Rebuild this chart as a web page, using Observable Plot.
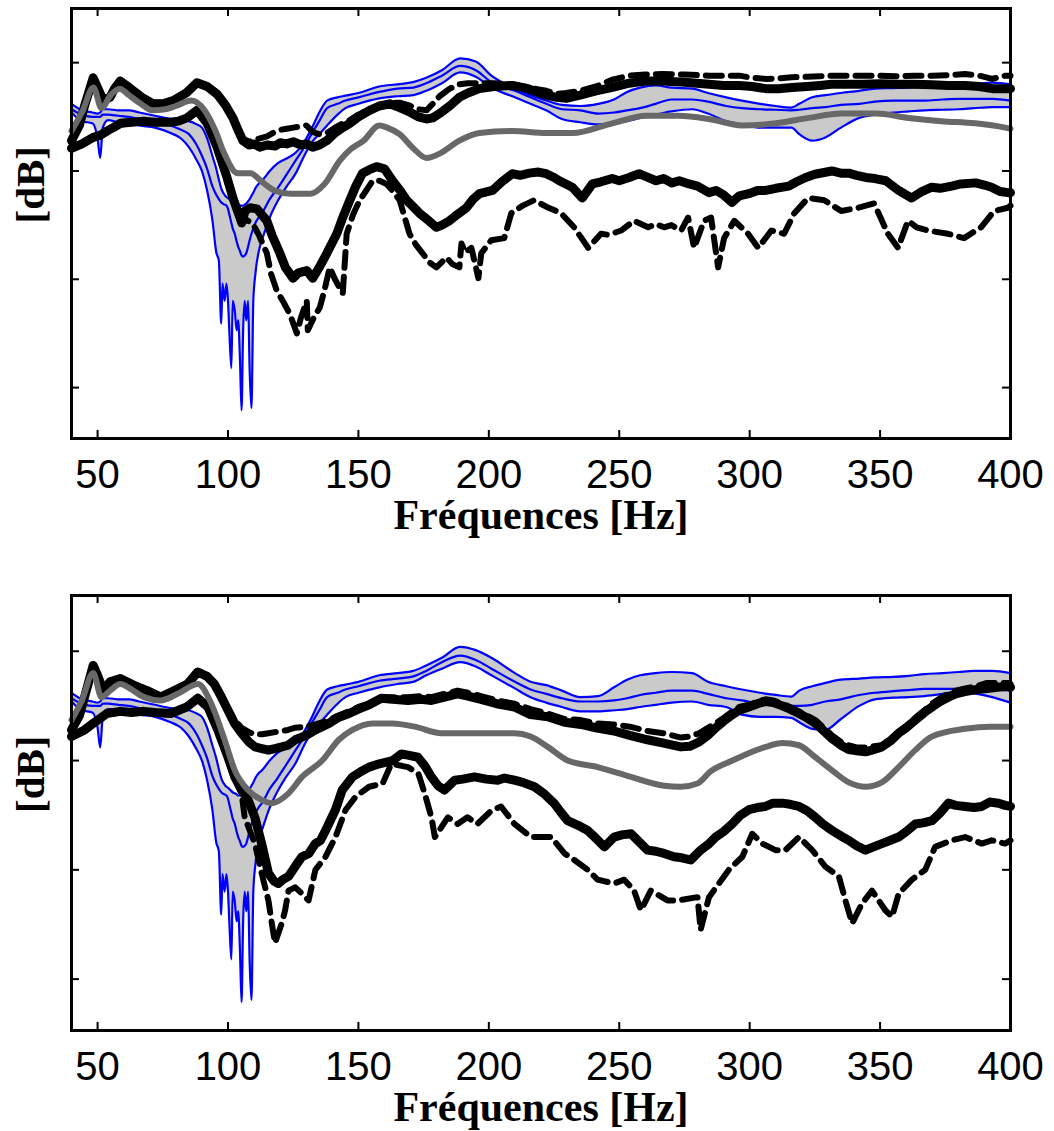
<!DOCTYPE html>
<html><head><meta charset="utf-8">
<script src="https://cdn.jsdelivr.net/npm/d3@7"></script>
<script src="https://cdn.jsdelivr.net/npm/@observablehq/plot@0.6"></script>
<style>body{margin:0;background:#fff}#chart svg{display:block}</style>
</head><body><div id="chart"></div>
<script>
// ---------- tick values & labels ----------
const xTicks = [50,100,150,200,250,300,350,400];
const yTicks = [0,-10,-20,-30];
const xLabel = "Fréquences [Hz]";
const yLabel = "[dB]";

// ---------- blue band (shared frequency grid) ----------
const freqBlue = [40,44,48,50,51,52,54,58,62,66,72,78,82,85,88,90,92,94,95.5,96.5,97.4,97.9,98.7,99.4,100,100.5,101.3,101.8,102.6,103.3,103.9,104.6,105.2,105.8,106.4,107,107.7,108.3,109,109.7,110.5,112,113,116,119,122,126,129,132,135,138,142,145,150,158,165,171,176,182,189,195,201,210,216,222,228,235,242,248,253,258,264,270,278,284,291,297,304,310,316,319,324,329,335,342,348,355,361,367,374,380,386,393,400];

// top panel
const b1Hi = [-3.8,-4.4,-4.6,-4.7,-4.6,-4.3,-4.3,-4.4,-4.4,-4.6,-4.9,-5.2,-5.3,-5.4,-5.7,-6.0,-7.0,-8.6,-9.8,-10.8,-11.6,-11.9,-12.2,-12.4,-12.5,-12.6,-12.8,-12.9,-13.0,-13.1,-13.2,-13.2,-13.2,-13.2,-13.1,-13.0,-12.8,-12.6,-12.3,-12.0,-11.6,-11.1,-10.9,-10.0,-9.3,-8.9,-8.3,-7.4,-6.1,-4.6,-3.5,-3.2,-3.05,-2.8,-2.2,-2.0,-1.8,-1.4,-0.7,0.4,0.1,-1.2,-2.4,-3.0,-3.5,-3.9,-4.0,-3.8,-3.4,-2.7,-2.3,-2.1,-2.3,-2.4,-2.8,-3.2,-3.5,-3.8,-4.0,-4.15,-3.8,-3.2,-3.0,-2.8,-2.6,-2.4,-2.35,-2.3,-2.2,-2.15,-2.1,-2.0,-1.85,-2.0];
const b1Mid = [-4.3,-4.8,-5.0,-5.0,-5.0,-4.8,-4.8,-4.9,-5.0,-5.2,-5.5,-5.8,-6.2,-6.6,-7.6,-8.6,-9.8,-11.4,-12.2,-12.6,-12.9,-13.0,-13.1,-13.2,-13.5,-14.0,-14.8,-15.3,-15.8,-16.5,-17.0,-17.4,-17.8,-17.9,-17.8,-17.6,-17.0,-16.4,-15.8,-15.3,-14.8,-14.2,-13.9,-12.6,-11.6,-10.5,-9.0,-7.9,-6.6,-5.4,-4.2,-3.8,-3.5,-3.2,-2.7,-2.4,-2.3,-1.9,-1.2,-0.3,-0.7,-1.8,-2.6,-3.2,-3.8,-4.3,-4.4,-4.7,-4.6,-4.4,-4.2,-3.8,-3.4,-3.4,-3.6,-4.0,-4.2,-4.3,-4.35,-4.4,-4.35,-4.2,-4.1,-3.9,-3.8,-3.6,-3.5,-3.5,-3.5,-3.4,-3.35,-3.35,-3.35,-3.5];
const b1Lo = [-4.6,-5.4,-5.6,-7.0,-8.8,-6.0,-5.3,-5.5,-5.6,-5.8,-6.0,-6.5,-7.0,-7.8,-9.0,-10.0,-11.8,-14.5,-17.5,-18.3,-24.1,-20.4,-22.0,-20.4,-22.0,-24.7,-28.2,-22.0,-22.9,-24.7,-23.8,-27.5,-32.1,-24.7,-22.0,-23.8,-22.0,-28.4,-31.9,-22.0,-19.5,-17.2,-16.4,-14.3,-12.8,-11.6,-10.2,-8.7,-7.4,-6.6,-5.8,-4.8,-4.2,-3.8,-3.3,-3.1,-3.0,-2.6,-1.9,-0.9,-1.3,-2.3,-3.2,-3.8,-4.4,-5.2,-5.5,-5.7,-5.6,-5.4,-5.1,-4.8,-4.5,-4.3,-4.7,-5.4,-5.7,-6.0,-6.0,-6.0,-6.6,-7.2,-6.9,-6.0,-5.1,-4.8,-4.6,-4.5,-4.4,-4.35,-4.3,-4.2,-4.1,-4.1];

// bottom panel
const b2Hi = [-3.8,-4.4,-4.6,-4.7,-4.6,-4.3,-4.3,-4.4,-4.4,-4.6,-4.9,-5.2,-5.3,-5.4,-5.7,-6.0,-7.0,-8.6,-9.8,-10.8,-11.6,-11.9,-12.2,-12.4,-12.5,-12.6,-12.8,-12.9,-13.0,-13.1,-13.2,-13.2,-13.2,-13.2,-13.1,-13.0,-12.8,-12.6,-12.3,-12.0,-11.6,-11.1,-10.9,-10.0,-9.3,-8.9,-8.3,-7.4,-6.1,-4.6,-3.5,-3.2,-3.05,-2.8,-2.2,-2.0,-1.8,-1.3,-0.6,0.4,0.1,-0.6,-2.0,-2.8,-3.1,-3.6,-4.2,-4.1,-3.3,-2.6,-2.2,-2.0,-1.9,-2.0,-2.8,-3.2,-3.5,-3.8,-4.0,-4.15,-3.6,-3.2,-2.9,-2.6,-2.5,-2.4,-2.35,-2.25,-2.1,-2.0,-1.9,-1.8,-1.8,-2.0];
const b2Mid = [-4.3,-4.8,-5.0,-5.0,-5.0,-4.8,-4.8,-4.9,-5.0,-5.2,-5.5,-5.8,-6.2,-6.6,-7.6,-8.6,-9.8,-11.4,-12.2,-12.6,-12.9,-13.0,-13.1,-13.2,-13.5,-14.0,-14.8,-15.3,-15.8,-16.5,-17.0,-17.4,-17.8,-17.9,-17.8,-17.6,-17.0,-16.4,-15.8,-15.3,-14.8,-14.2,-13.9,-12.6,-11.6,-10.5,-9.0,-7.9,-6.6,-5.4,-4.2,-3.8,-3.5,-3.2,-2.7,-2.5,-2.3,-1.8,-1.0,-0.4,-0.8,-1.6,-2.8,-3.5,-3.9,-4.3,-4.6,-4.6,-4.5,-4.3,-4.0,-3.8,-3.6,-3.6,-3.9,-4.3,-4.5,-4.8,-4.9,-5.0,-5.0,-4.9,-4.6,-4.4,-4.0,-3.8,-3.65,-3.55,-3.45,-3.45,-3.45,-3.45,-3.5,-3.6];
const b2Lo = [-4.6,-5.4,-5.6,-7.0,-8.8,-6.0,-5.3,-5.5,-5.6,-5.8,-6.0,-6.5,-7.0,-7.8,-9.0,-10.0,-11.8,-14.5,-17.5,-18.3,-24.1,-20.4,-22.0,-20.4,-22.0,-24.7,-28.2,-22.0,-22.9,-24.7,-23.8,-27.5,-32.1,-24.7,-22.0,-23.8,-22.0,-28.4,-31.9,-22.0,-19.5,-17.2,-16.4,-14.3,-12.8,-11.6,-10.2,-8.7,-7.4,-6.6,-5.8,-4.8,-4.2,-3.8,-3.3,-3.0,-2.8,-2.2,-1.6,-1.0,-1.4,-2.2,-3.4,-4.2,-4.7,-5.1,-5.5,-5.5,-5.4,-5.3,-5.1,-4.9,-4.7,-4.6,-4.9,-5.1,-5.8,-6.0,-6.0,-6.1,-6.5,-7.1,-7.2,-6.2,-5.0,-4.4,-4.25,-4.2,-4.1,-3.9,-3.7,-3.85,-4.2,-4.7];

// ---------- top panel: black / dashed / grey ----------
const freqK1u = [40,43,45,48.3,50,52.2,54.8,56.5,58.7,61,63.7,67,71.3,75,79,84,88.1,92,95.8,99,101.9,104,105.7,108,110,112.2,115,118,120,122.5,125,128,130,132.5,135,137.9,141,144,146.7,150,154.3,158,162,165.8,170,173,176.1,178.5,181.1,185,188.7,192,196.4,202,209,215,222,226,229.6,235,241.1,247,253.8,260,266.4,275,284.4,290,296,301,306.2,311,316.1,322,327,331.4,337,343,350,357,363,370,376,382.6,388,393,398,400];
const k1u = [-7.2,-5.8,-4.0,-1.4,-2.3,-3.5,-3.2,-2.4,-1.7,-2.1,-2.6,-3.2,-3.8,-3.8,-3.5,-2.8,-1.85,-2.2,-2.9,-3.9,-5.1,-6.3,-7.2,-7.6,-7.5,-7.8,-7.6,-7.7,-7.4,-7.5,-7.3,-7.6,-7.5,-7.8,-7.6,-7.2,-6.5,-6.0,-5.6,-5.0,-4.4,-4.0,-3.8,-4.15,-4.6,-5.0,-5.2,-5.1,-4.7,-4.0,-3.2,-2.8,-2.4,-2.2,-2.1,-2.4,-3.0,-3.2,-3.3,-3.0,-2.6,-2.3,-1.9,-1.7,-1.7,-1.8,-2.0,-2.1,-2.1,-2.2,-2.4,-2.4,-2.3,-2.2,-2.1,-2.0,-2.0,-2.0,-1.95,-2.0,-2.0,-2.05,-2.1,-2.1,-2.2,-2.4,-2.4,-2.4];
const d1u = [-7.0,-5.6,-3.9,-1.3,-2.2,-3.4,-3.1,-2.3,-1.6,-2.0,-2.5,-3.1,-3.7,-3.7,-3.4,-2.7,-1.8,-2.1,-2.8,-3.8,-5.0,-6.2,-7.0,-7.3,-7.1,-7.0,-6.8,-6.4,-6.2,-6.1,-6.0,-5.9,-5.8,-6.4,-6.6,-6.5,-6.0,-5.6,-5.3,-4.8,-4.3,-3.9,-3.7,-3.7,-4.0,-4.3,-4.4,-3.8,-3.1,-2.4,-2.0,-1.9,-1.9,-1.9,-2.0,-2.3,-2.6,-2.9,-2.8,-2.6,-2.2,-1.6,-1.2,-1.1,-1.05,-1.1,-1.2,-1.2,-1.2,-1.4,-1.5,-1.45,-1.35,-1.3,-1.25,-1.2,-1.2,-1.2,-1.2,-1.25,-1.2,-1.2,-1.15,-1.05,-1.2,-1.5,-1.2,-1.2];

const freqK1l = [40,44,48.3,51,53.7,56,58.7,63,67.5,72,77.8,81,84.3,88.1,92,95.8,99.6,101.9,105.3,106.5,108.5,111.1,114.9,117,119.9,122,124.9,127,130.2,132.5,135,137.9,141.7,144,146.7,149,151.6,154,157,160,163.1,166,168.5,171,173.4,177,179.9,182,184.9,188,191.4,194,196.4,201.4,205,209,212,215.5,219,222,225,227,232,235.8,239.7,243,247.3,250,253.8,257.6,261,264.1,267,270.2,273,276.8,280,284.4,287.1,290,293.2,296,299.7,303,306.2,310,315,318,321.5,325,331.5,335,338,341,344.5,348,352.2,357.1,362.1,366,369.8,373,377.4,381,386.6,390,392.7,396,399,400];
const k1l = [-7.9,-7.5,-6.9,-6.7,-6.3,-6.0,-5.6,-5.5,-5.4,-5.5,-5.5,-5.4,-5.1,-4.4,-5.6,-7.8,-10.6,-12.5,-14.8,-13.7,-13.4,-13.5,-14.6,-16.0,-17.6,-18.9,-19.9,-19.4,-19.2,-19.9,-18.9,-17.6,-15.8,-14.3,-12.7,-11.4,-10.2,-9.9,-9.6,-9.8,-10.9,-11.8,-12.7,-13.3,-13.9,-14.6,-15.2,-15.0,-14.6,-14.0,-13.4,-12.6,-12.1,-11.8,-11.0,-10.25,-10.4,-10.2,-10.1,-10.25,-10.6,-10.9,-11.5,-12.5,-11.2,-11.0,-10.7,-10.9,-10.6,-10.25,-10.6,-10.9,-10.7,-11.1,-10.9,-11.2,-11.4,-12.0,-11.8,-12.2,-12.9,-12.3,-12.1,-11.8,-11.8,-11.6,-11.4,-11.0,-10.6,-10.3,-10.0,-10.2,-10.2,-10.4,-10.6,-10.7,-10.9,-11.8,-12.5,-11.9,-11.5,-11.6,-11.4,-11.2,-11.1,-11.3,-11.5,-11.9,-12.0,-12.0];

const freqD1l = [40,44,48,51,54,59,63,68,73,78,84,88,92,96,100,102,105,107,109.6,112,114.9,116.5,118.7,121,123.7,126.4,128,130.2,130.6,133,135.2,137,139,141,144,145.5,148,150.5,153,155.5,158.1,160.8,163,165.8,169.6,172,174.6,177,179.9,183.8,186,188.7,189.5,191,193.3,196,197.1,200.9,205.9,208.6,213,217.4,222,227.7,232.7,238.1,243,246,250.7,255.7,261.1,264,267.2,270,273.7,276.4,278.7,282.5,285.2,287.9,290.2,294.1,299.4,303.3,308.3,313.2,317.1,322.4,328.6,335.1,341.6,347.7,353,356.9,360.7,364,368.4,376,382.2,388.7,393.7,399,400];
const d1l = [-8.0,-7.6,-7.0,-6.8,-6.4,-5.7,-5.6,-5.5,-5.6,-5.6,-5.2,-4.5,-5.7,-7.9,-10.7,-12.6,-14.9,-14.5,-14.9,-16.0,-17.6,-19.5,-21.05,-22.0,-23.2,-25.0,-23.5,-22.0,-24.7,-23.5,-22.6,-21.0,-18.9,-20.0,-21.3,-15.8,-14.0,-12.7,-11.8,-10.9,-10.9,-11.2,-11.8,-12.7,-15.8,-16.8,-17.6,-18.4,-18.9,-18.0,-18.6,-18.9,-16.7,-17.5,-17.1,-19.9,-17.6,-16.4,-16.2,-13.9,-13.2,-12.7,-13.3,-13.9,-15.2,-17.1,-15.8,-15.9,-15.5,-14.6,-15.2,-14.9,-15.2,-15.0,-15.5,-14.3,-17.1,-14.6,-14.3,-18.9,-16.2,-14.6,-15.8,-17.1,-15.5,-15.8,-13.9,-12.5,-12.7,-13.7,-13.4,-13.0,-15.8,-17.1,-14.6,-15.2,-15.5,-15.8,-16.2,-15.2,-13.7,-13.4,-13.2];

const freqG1 = [40,44,48.4,51.5,55,58.5,62,66,71,76,80,86,91,95,98.6,103.6,108.6,113,117.8,124,131.6,137,143,147,152,158,161,165.8,170.8,176.1,181.1,188.7,196.4,209,222,232,247.3,260.3,272.9,284.4,297,310,322.6,335.3,348.3,360.9,373.5,386.5,398,400];
const g1 = [-6.3,-4.6,-2.3,-4.2,-3.0,-2.4,-3.0,-3.7,-4.4,-4.3,-4.0,-3.5,-4.4,-6.2,-8.4,-10.2,-10.2,-11.0,-11.8,-12.1,-12.1,-11.2,-9.0,-8.0,-7.2,-5.8,-6.0,-6.6,-7.85,-8.8,-8.4,-7.2,-6.5,-6.3,-6.5,-6.5,-5.6,-4.9,-4.9,-5.2,-5.8,-5.6,-5.1,-4.7,-4.7,-5.1,-5.4,-5.6,-6.0,-6.1];

// ---------- bottom panel: black / dashed / grey ----------
const freqK2u = [40,43,45,48.3,50,52.2,54.8,58.7,63.8,69,74.2,79.4,84.5,88.4,92,94.8,97.5,100,102.5,105.2,108,110.3,113,115.5,118,120.6,123,125.8,130,133.5,138.7,142,146.4,150,154.1,158.8,163,169,174,178,183,188,192,197,203,209.8,216,222.6,229,235.3,241,248,254,260.8,267,273.6,277,280.6,284,287,290,293.4,296,299.7,303,306.1,309,312.5,315.5,318.9,322,325.2,328,331.6,335,338,341,344.4,347.5,350.7,354,357.1,360,363.5,367,369.9,373,376.2,379,382.6,387,391,395,399,400];
const k2u = [-7.2,-5.9,-4.2,-1.3,-2.2,-3.6,-2.8,-2.5,-3.1,-3.6,-4.2,-3.6,-3.0,-1.9,-2.3,-3.0,-4.2,-5.4,-6.6,-7.5,-8.3,-8.75,-8.9,-9.05,-8.9,-8.75,-8.6,-8.1,-7.7,-7.2,-6.6,-6.1,-5.7,-5.3,-4.9,-4.3,-4.4,-4.5,-4.4,-4.5,-4.2,-3.9,-4.1,-4.4,-4.8,-5.1,-5.8,-6.0,-6.5,-6.7,-7.0,-7.3,-7.7,-8.1,-8.4,-8.75,-8.7,-8.3,-7.7,-7.0,-6.4,-5.8,-5.4,-5.1,-4.8,-4.6,-4.7,-5.0,-5.3,-5.7,-6.1,-6.6,-7.2,-8.0,-8.6,-9.0,-9.1,-9.2,-9.0,-8.75,-8.2,-7.5,-7.0,-6.3,-5.6,-5.1,-4.6,-4.2,-3.9,-3.7,-3.5,-3.4,-3.3,-3.2,-3.3];
const d2u = [-7.0,-5.7,-4.1,-1.2,-2.1,-3.5,-2.7,-2.4,-3.0,-3.5,-4.1,-3.5,-2.9,-1.8,-2.2,-2.9,-4.1,-5.3,-6.3,-7.0,-7.4,-7.6,-7.6,-7.5,-7.4,-7.3,-7.2,-7.0,-6.9,-6.7,-6.3,-5.9,-5.5,-5.1,-4.8,-4.2,-4.2,-4.2,-4.1,-4.2,-3.9,-3.6,-3.8,-4.1,-4.5,-4.8,-5.3,-5.7,-6.2,-6.3,-6.6,-6.7,-6.9,-7.3,-7.5,-7.9,-7.8,-7.5,-7.0,-6.6,-6.1,-5.5,-5.1,-4.9,-4.6,-4.4,-4.5,-4.8,-5.1,-5.5,-5.9,-6.3,-6.9,-7.7,-8.3,-8.6,-8.8,-8.8,-8.7,-8.6,-8.0,-7.6,-7.0,-6.1,-5.4,-4.8,-4.3,-3.9,-3.6,-3.4,-3.2,-2.9,-2.9,-2.9,-3.0];

const freqK2l = [40,45,48.3,53.5,58.7,63,67.7,72,78,84.2,88.4,92.3,96.1,100,102.6,105.2,107.7,110.3,112.9,115.5,117.5,119.3,121,123.2,126,128.4,131,133.5,135.5,137.4,139,141.2,143.8,147.7,151,154.1,158,163.1,166.5,169,172.8,175.5,178,180.5,183,186.9,190,194.5,199,203.4,206,209.8,213,217.5,221,225,227.5,230.2,234,237.9,241,244.3,248,251,254.5,257.5,260.8,264,267.2,271,274,277.4,281.2,284,287,290,293.3,296.5,299.7,303,306,309,312.5,315.5,318.9,322,325.2,328,331.6,335,338,341,344.4,347.5,350.7,354,357.1,360,363.5,366.5,369.9,373,376.2,379,382.6,386,389,392,395.4,398,400];
const k2l = [-7.8,-7.2,-6.6,-5.7,-5.5,-5.6,-5.5,-5.6,-5.7,-5.1,-4.3,-5.1,-7.2,-9.7,-11.5,-12.7,-13.6,-15.2,-17.6,-20.3,-21.0,-21.25,-20.9,-20.6,-19.6,-18.8,-18.5,-17.6,-17.3,-16.4,-15.6,-14.5,-12.7,-11.5,-11.0,-10.6,-10.3,-10.0,-9.4,-9.5,-9.7,-10.5,-11.5,-12.3,-12.7,-11.8,-11.7,-11.5,-11.7,-11.8,-11.6,-11.8,-12.0,-12.4,-13.0,-13.9,-14.7,-15.5,-15.9,-16.4,-17.1,-17.9,-17.0,-16.8,-16.7,-17.4,-18.2,-18.3,-18.5,-18.8,-18.9,-19.1,-18.2,-17.7,-17.0,-16.5,-15.8,-15.0,-14.5,-14.3,-14.2,-13.9,-13.9,-14.0,-14.2,-14.6,-15.2,-15.8,-16.4,-16.9,-17.3,-17.8,-18.2,-17.9,-17.6,-17.3,-17.0,-16.5,-15.8,-15.7,-15.5,-14.8,-13.9,-14.1,-14.2,-14.3,-14.2,-13.8,-13.9,-14.1,-14.2];

const freqD2l = [40,48.3,53.5,58.7,67.7,78,84.2,88.4,92.3,96.1,100,102.6,105.2,106.4,110.3,112.9,115.5,116.8,118,120.6,121.9,123.2,125.8,128.4,130.9,133.5,137.4,141.2,145.1,149,154.1,159.3,162.6,169,173,175.4,178,179.3,184.3,188,191.8,195.6,200.9,204.7,209.8,216.2,223.9,229,232.8,237.9,241.7,248,251.9,255.7,258.3,262.1,268.5,272.3,280,281.2,284.4,288.2,292,297.2,301,304.8,309.9,313.7,318.9,324,329,334.2,336.7,339.3,343,346.9,352,354.6,357.1,362.2,367.3,371.1,377.5,382.6,389,392.8,397.9,400];
const d2l = [-7.9,-6.7,-5.8,-5.6,-5.6,-5.8,-5.2,-4.4,-5.2,-7.3,-9.8,-11.6,-13.0,-15.2,-17.6,-20.3,-22.8,-24.9,-26.7,-24.9,-23.7,-21.9,-21.6,-22.2,-22.8,-20.0,-18.8,-17.0,-14.5,-13.3,-12.4,-12.1,-10.3,-10.6,-11.2,-13.0,-15.2,-17.0,-15.2,-15.8,-15.2,-15.8,-14.6,-14.2,-15.8,-17.0,-17.0,-18.5,-19.1,-20.0,-20.9,-21.25,-20.9,-21.9,-23.7,-21.9,-22.8,-22.8,-22.5,-25.5,-22.5,-21.25,-20.0,-18.8,-16.7,-17.6,-18.2,-18.2,-17.0,-18.2,-19.7,-20.6,-22.8,-24.9,-23.1,-21.9,-23.7,-24.3,-22.2,-20.9,-20.0,-17.9,-17.3,-17.0,-17.6,-17.3,-17.6,-17.3];

const freqG2 = [40,44,48.3,51.5,54.8,58.7,63,67.7,74.2,80.7,88.5,93.6,98.7,102.6,107.7,112.9,116.7,123.2,128.4,136.1,142.5,147.7,155.4,163,171.6,181.8,197,209.8,216,222.6,230.2,241.7,254.5,267.2,273.6,280,285,293.4,306.1,312.5,318.9,325.2,331.6,338,344.4,350.7,357.1,363.5,369.9,382.6,392,400];
const g2 = [-6.3,-4.5,-2.0,-4.2,-3.6,-3.0,-3.5,-4.2,-4.5,-3.9,-3.0,-4.8,-8.1,-10.9,-12.7,-13.6,-13.9,-13.0,-11.5,-10.0,-8.1,-7.2,-6.6,-6.6,-6.9,-7.5,-7.5,-7.5,-7.8,-8.75,-10.0,-10.6,-11.5,-12.3,-12.4,-12.1,-11.0,-10.0,-8.75,-8.4,-8.6,-9.7,-10.9,-12.0,-12.4,-12.0,-10.6,-9.05,-7.8,-7.1,-6.9,-6.9];

// ---------- drawing ----------
const serif = "'Liberation Serif','Times New Roman',serif";
const sans = "'Liberation Sans',Arial,Helvetica,sans-serif";

function panel(c) {
  const W = 1054, ML = 71, MR = 44;
  const plotH = c.height - c.mt - c.mb;
  const plotW = W - ML - MR;
  const band = freqBlue.map((f, i) => ({f, hi: c.hi[i], mid: c.mid[i], lo: c.lo[i]}));
  const pts = (fr, v) => fr.map((f, i) => ({f, v: v[i]}));
  const blue = {stroke: "#0000ff", strokeWidth: 2.2, curve: "monotone-x"};
  const dash = {x: "f", y: "v", stroke: "black", strokeWidth: 6, strokeDasharray: "16,9"};
  const solid = {x: "f", y: "v", stroke: "black", strokeWidth: 9, strokeLinejoin: "round", strokeLinecap: "round"};
  return Plot.plot({
    width: W, height: c.height,
    marginTop: c.mt, marginBottom: c.mb, marginLeft: ML, marginRight: MR,
    x: {domain: [40, 400], axis: null},
    y: {domain: c.yDomain, axis: null},
    style: {background: "white", overflow: "visible"},
    marks: [
      Plot.areaY(band, {x: "f", y1: "lo", y2: "hi", fill: "#cacaca", curve: "monotone-x"}),
      Plot.lineY(band, {x: "f", y: "hi", ...blue}),
      Plot.lineY(band, {x: "f", y: "mid", ...blue}),
      Plot.lineY(band, {x: "f", y: "lo", ...blue}),
      Plot.lineY(pts(c.fKu, c.du), dash),
      Plot.lineY(pts(c.fDl, c.dl), dash),
      Plot.lineY(pts(c.fKu, c.ku), solid),
      Plot.lineY(pts(c.fKl, c.kl), solid),
      Plot.lineY(pts(c.fG, c.g), {x: "f", y: "v", stroke: "#686868", strokeWidth: 6, curve: "monotone-x"}),
      Plot.frame({stroke: "black", strokeWidth: 3}),
      Plot.tickX(xTicks, {x: d => d, stroke: "black", strokeWidth: 2, insetTop: plotH - 8}),
      Plot.tickX(xTicks, {x: d => d, stroke: "black", strokeWidth: 2, insetBottom: plotH - 8}),
      Plot.tickY(yTicks, {y: d => d, stroke: "black", strokeWidth: 2, insetRight: plotW - 8}),
      Plot.tickY(yTicks, {y: d => d, stroke: "black", strokeWidth: 2, insetLeft: plotW - 8}),
      Plot.text(xTicks, {x: d => d, frameAnchor: "bottom", lineAnchor: "bottom", dy: 49, text: d => String(d), fontSize: 40, fontFamily: sans, fill: "black"}),
      Plot.text([xLabel], {frameAnchor: "bottom", lineAnchor: "bottom", dy: 90, text: d => d, fontSize: 42, fontWeight: "bold", fontFamily: serif, fill: "black"}),
      Plot.text([yLabel], {frameAnchor: "left", dx: -41, rotate: -90, text: d => d, fontSize: 41, fontWeight: "bold", fontFamily: serif, fill: "black"})
    ]
  });
}

const root = document.getElementById("chart");
root.append(panel({height: 588, mt: 8, mb: 150, yDomain: [-34.7, 5.0],
  hi: b1Hi, mid: b1Mid, lo: b1Lo, fKu: freqK1u, ku: k1u, du: d1u,
  fKl: freqK1l, kl: k1l, fDl: freqD1l, dl: d1l, fG: freqG1, g: g1}));
root.append(panel({height: 543, mt: 7, mb: 101, yDomain: [-34.7, 5.1],
  hi: b2Hi, mid: b2Mid, lo: b2Lo, fKu: freqK2u, ku: k2u, du: d2u,
  fKl: freqK2l, kl: k2l, fDl: freqD2l, dl: d2l, fG: freqG2, g: g2}));
</script>
</body></html>
